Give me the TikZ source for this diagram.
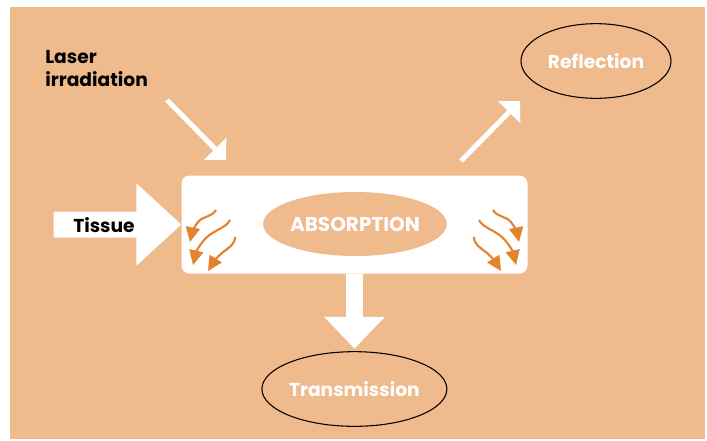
\documentclass[tikz,border=0pt]{standalone}
\usepackage{fontspec}
\setmainfont{Poppins}
\usepackage{tikz}
\usetikzlibrary{shapes.geometric, arrows.meta, positioning, calc}
\definecolor{Peach}{HTML}{EFBA8C}
\definecolor{Ember}{HTML}{E4832E}
\newcommand{\labelfont}{\bfseries\fontsize{14}{17.5}\selectfont}
\newcommand{\heatwaves}{%
    \draw[heatwave] (216,210) .. controls (212,217) and (203,216) .. (198,222)
        .. controls (195,226) and (192,232) .. (190,242);
    \draw[heatwave] (230,220) .. controls (226,228) and (214,230) .. (206,238)
        .. controls (200,244) and (196,252) .. (193,265);
    \draw[heatwave] (235,237) .. controls (235,245) and (228,248) .. (222,253)
        .. controls (217,257) and (213,263) .. (208,271);
}
\tikzset{
    whitearrow/.style={draw=white, line width=3.75pt,
        -{Triangle[length=11.7pt, width=23pt]}},
    heatwave/.style={draw=Ember, line width=1.6pt,
        -{Triangle[length=11pt, width=10.5pt]}},
    outcome/.style={ellipse, draw=black, line width=0.8pt, minimum height=56pt,
        inner sep=0pt, text=white, font=\labelfont}
}

\begin{document}
\begin{tikzpicture}[x=0.75pt, y=-0.75pt]
    \useasboundingbox (0,0) rectangle (707,440);
    % Background
    \fill[Peach] (10,7) rectangle (705,439);

    % Tissue box with absorption
    \node[rectangle, rounded corners=6pt, fill=white,
          minimum width=259.5pt, minimum height=73.5pt] (tissuebox) at (354.5,224.5) {};
    \node[ellipse, fill=Peach, minimum width=132.5pt, minimum height=48pt,
          inner sep=0pt, text=white, font=\bfseries\fontsize{15}{18}\selectfont]
        (absorption) at (355,224) {ABSORPTION};

    % Heat inside the tissue
    \heatwaves
    \begin{scope}[shift={(709,0)}, xscale=-1]
        \heatwaves
    \end{scope}

    % Tissue block arrow
    \fill[white] (tissuebox.west) -- ++(-44.8,-41.2) -- ++(0,28.4) -- ++(-82.7,0)
        -- ++(0,26) -- ++(82.7,0) -- ++(0,28) -- cycle;
    \node[font=\labelfont, text=black, inner sep=0pt] (tissue) at (104,225) {Tissue};

    % Laser irradiation
    \node[font=\labelfont, text=black, align=left, inner sep=0pt, anchor=north west]
        (laser) at (45,50) {Laser\\irradiation};
    \coordinate (laserfrom) at (167,100);
    \coordinate (laserto) at (226,160);
    \draw[whitearrow] (laserfrom) -- (laserto);

    % Reflection
    \node[outcome, minimum width=112.5pt] (reflection) at (596,61) {Reflection};
    \coordinate (reflectfrom) at (461,161);
    \coordinate (reflectto) at (520,101);
    \draw[whitearrow] (reflectfrom) -- (reflectto);

    % Transmission
    \fill[white] (tissuebox.south) ++(-8.3,0) -- ++(0,43.2) -- ++(-22,0)
        -- ++(30.3,31.6) -- ++(30.3,-31.6) -- ++(-22,0) -- ++(0,-43.2) -- cycle;
    \node[outcome, minimum width=132pt] (transmission) at (354.4,389) {Transmission};
\end{tikzpicture}
\end{document}
